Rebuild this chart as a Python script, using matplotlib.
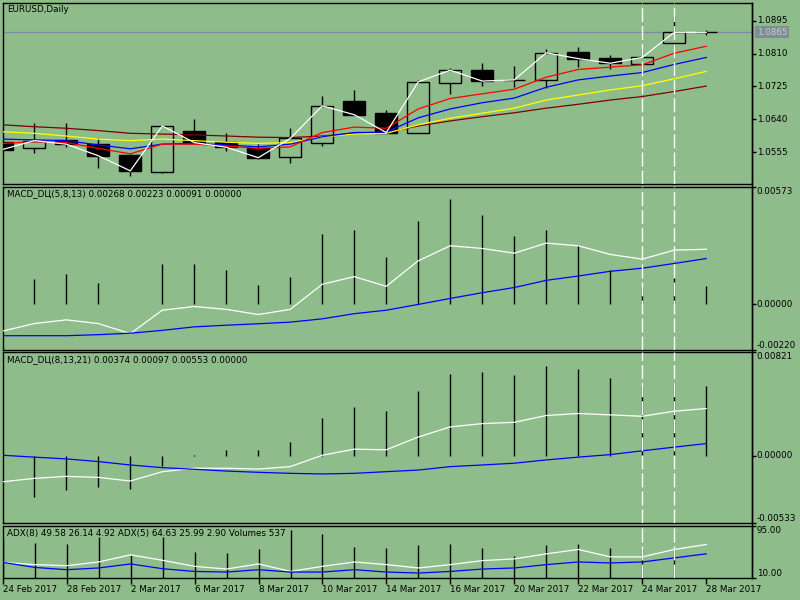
import matplotlib
matplotlib.use('Agg')
import matplotlib.pyplot as plt
from matplotlib.lines import Line2D

plt.rcParams['font.family'] = ['DejaVu Sans']

# ---- data (EURUSD daily, 24 Feb - 28 Mar 2017) ----
dates = ['24 Feb 2017', '27 Feb 2017', '28 Feb 2017', '1 Mar 2017', '2 Mar 2017',
         '3 Mar 2017', '6 Mar 2017', '7 Mar 2017', '8 Mar 2017', '9 Mar 2017',
         '10 Mar 2017', '13 Mar 2017', '14 Mar 2017', '15 Mar 2017', '16 Mar 2017',
         '17 Mar 2017', '20 Mar 2017', '21 Mar 2017', '22 Mar 2017', '23 Mar 2017',
         '24 Mar 2017', '27 Mar 2017', '28 Mar 2017']

opens = [1.0582, 1.0565, 1.0587, 1.0576, 1.0548, 1.0505, 1.0610, 1.0582, 1.0565, 1.0542,
         1.0578, 1.0688, 1.0656, 1.0604, 1.0733, 1.0767, 1.0741, 1.0741, 1.0814, 1.0799,
         1.0782, 1.0838, 1.0866]
highs = [1.0592, 1.0631, 1.0630, 1.0593, 1.0551, 1.0624, 1.0641, 1.0604, 1.0576, 1.0617,
         1.0700, 1.0716, 1.0664, 1.0742, 1.0772, 1.0785, 1.0778, 1.0822, 1.0828, 1.0806,
         1.0821, 1.0908, 1.0871]
lows = [1.0555, 1.0552, 1.0569, 1.0515, 1.0494, 1.0501, 1.0576, 1.0559, 1.0537, 1.0526,
        1.0572, 1.0651, 1.0604, 1.0604, 1.0706, 1.0727, 1.0723, 1.0720, 1.0776, 1.0769,
        1.0761, 1.0828, 1.0859]
closes = [1.0562, 1.0585, 1.0576, 1.0546, 1.0507, 1.0623, 1.0580, 1.0568, 1.0541, 1.0591,
          1.0675, 1.0652, 1.0606, 1.0737, 1.0767, 1.0739, 1.0742, 1.0812, 1.0797, 1.0785,
          1.0800, 1.0865, 1.0865]

ma_red = [1.0578, 1.0582, 1.0580, 1.0565, 1.0551, 1.0576, 1.0576, 1.0571, 1.0565, 1.0569,
          1.0606, 1.0620, 1.0617, 1.0667, 1.0694, 1.0706, 1.0718, 1.0749, 1.0769, 1.0775,
          1.0781, 1.0811, 1.0829]
ma_blue = [1.0589, 1.0587, 1.0585, 1.0574, 1.0564, 1.0576, 1.0578, 1.0574, 1.0569, 1.0576,
           1.0595, 1.0606, 1.0607, 1.0644, 1.0667, 1.0683, 1.0695, 1.0723, 1.0742, 1.0752,
           1.0761, 1.0782, 1.0800]
ma_yellow = [1.0608, 1.0604, 1.0597, 1.0589, 1.0585, 1.0589, 1.0585, 1.0581, 1.0578, 1.0580,
             1.0595, 1.0602, 1.0604, 1.0626, 1.0643, 1.0656, 1.0669, 1.0690, 1.0703, 1.0716,
             1.0727, 1.0745, 1.0764]
ma_maroon = [1.0626, 1.0621, 1.0617, 1.0611, 1.0604, 1.0602, 1.0600, 1.0597, 1.0594, 1.0593,
             1.0597, 1.0604, 1.0606, 1.0623, 1.0636, 1.0647, 1.0657, 1.0669, 1.0679, 1.0690,
             1.0699, 1.0712, 1.0726]
bid = 1.0865

macd1_hist = [0.00100, 0.00122, 0.00150, 0.00106, 0.00000, 0.00196, 0.00196, 0.00166, 0.00093,
              0.00132, 0.00342, 0.00362, 0.00230, 0.00406, 0.00510, 0.00435, 0.00333, 0.00362,
              0.00289, 0.00168, 0.00085, 0.00127, 0.00091]
macd1_white = [-0.00130, -0.00093, -0.00075, -0.00093, -0.00142, -0.00028, -0.00010, -0.00024,
               -0.00049, -0.00024, 0.00098, 0.00135, 0.00088, 0.00212, 0.00285, 0.00272,
               0.00249, 0.00298, 0.00285, 0.00243, 0.00220, 0.00264, 0.00268]
macd1_blue = [-0.00152, -0.00152, -0.00152, -0.00147, -0.00140, -0.00126, -0.00109, -0.00101,
              -0.00094, -0.00086, -0.00070, -0.00045, -0.00028, 0.00000, 0.00029, 0.00057,
              0.00082, 0.00117, 0.00138, 0.00161, 0.00176, 0.00199, 0.00223]

macd2_hist = [-0.00300, -0.00329, -0.00266, -0.00244, -0.00258, -0.00080, 0.00003, 0.00048,
              0.00048, 0.00112, 0.00303, 0.00383, 0.00351, 0.00510, 0.00648, 0.00661, 0.00638,
              0.00709, 0.00685, 0.00614, 0.00550, 0.00574, 0.00553]
macd2_white = [-0.00205, -0.00178, -0.00162, -0.00170, -0.00199, -0.00125, -0.00098, -0.00098,
               -0.00104, -0.00085, 0.00005, 0.00053, 0.00048, 0.00149, 0.00229, 0.00255,
               0.00265, 0.00319, 0.00335, 0.00324, 0.00313, 0.00353, 0.00374]
macd2_blue = [0.00005, -0.00010, -0.00024, -0.00045, -0.00072, -0.00093, -0.00106, -0.00120,
              -0.00130, -0.00138, -0.00143, -0.00138, -0.00125, -0.00112, -0.00085, -0.00072,
              -0.00058, -0.00032, -0.00010, 0.00010, 0.00040, 0.00069, 0.00097]

adx5 = [35.8, 32.1, 30.4, 36.4, 47.9, 39.1, 29.3, 25.0, 33.2, 21.1, 29.3, 36.4, 32.1, 26.7,
        32.1, 38.6, 41.4, 49.5, 56.6, 44.6, 44.6, 56.6, 64.63]
adx8 = [35.8, 27.6, 23.9, 26.7, 33.2, 25.5, 21.1, 20.1, 23.9, 20.1, 20.1, 23.9, 20.1, 18.5,
        21.1, 25.0, 26.7, 32.1, 36.4, 34.8, 36.4, 43.0, 49.58]
volumes = [120000, 105000, 103000, 123000, 70000, 123000, 78000, 75000, 88000, 145000, 133000,
           93000, 90000, 100000, 103000, 90000, 67000, 100000, 103000, 90000, 87000, 87000, 537]

price_ticks = [1.0555, 1.0640, 1.0725, 1.0810, 1.0895]
macd1_ticks = [-0.00220, 0.0, 0.00573]
macd2_ticks = [-0.00533, 0.0, 0.00821]
adx_ticks = [10.0, 95.0]
marked_bars = [20, 21]

title1 = 'EURUSD,Daily'
title2 = 'MACD_DЦ(5,8,13) 0.00268 0.00223 0.00091 0.00000'
title3 = 'MACD_DЦ(8,13,21) 0.00374 0.00097 0.00553 0.00000'
title4 = 'ADX(8) 49.58 26.14 4.92 ADX(5) 64.63 25.99 2.90 Volumes 537'

# ---- figure ----
BG = '#8fbc8b'
FS = 6.3
W, H = 800, 600
x = list(range(len(dates)))

fig = plt.figure(figsize=(8, 6), dpi=100, facecolor=BG)


def box(top, bottom):
    return [2.7 / W, 1 - bottom / H, (752.3 - 2.7) / W, (bottom - top) / H]


ax1 = fig.add_axes(box(2.5, 184))
ax2 = fig.add_axes(box(186.5, 349.7))
ax3 = fig.add_axes(box(352, 523.3))
ax4 = fig.add_axes(box(525.7, 578.3))
axv = ax4.twinx()

for ax in (ax1, ax2, ax3, ax4):
    ax.set_facecolor(BG)
    ax.set_xlim(0.0125, 23.44)
    for s in ax.spines.values():
        s.set_color('black')
        s.set_linewidth(1.0)
    ax.yaxis.tick_right()
    ax.tick_params(axis='y', length=3, width=1, direction='out', labelright=False)
    ax.tick_params(axis='x', length=0, labelbottom=False)

axv.set_yticks([])
axv.set_ylim(0, 157800)
for s in axv.spines.values():
    s.set_visible(False)
ax4.set_zorder(axv.get_zorder() + 1)
ax4.patch.set_visible(False)
axv.set_facecolor(BG)


def right_labels(ax, ticks, fmt, vas):
    ax.set_yticks(ticks)
    for t, va in zip(ticks, vas):
        ax.text(1.006, t, fmt.format(t), transform=ax.get_yaxis_transform(),
                ha='left', va=va, fontsize=FS, color='black', clip_on=False)


# price panel
ax1.set_ylim(1.0473, 1.0942)
ax1.axhline(bid, color='#7f8aa5', lw=0.9, zorder=1)
ax1.vlines(x, lows, highs, color='black', lw=1.0, zorder=2)
for i in x:
    o, c = opens[i], closes[i]
    face = 'black' if c < o else BG
    ax1.bar(i, abs(c - o), bottom=min(o, c), width=0.69, facecolor=face,
            edgecolor='black', linewidth=1.0, zorder=3)
ax1.plot(x, ma_maroon, color='#800000', lw=0.9, zorder=4)
ax1.plot(x, ma_yellow, color='#ffff00', lw=0.9, zorder=4)
ax1.plot(x, ma_blue, color='#0000ff', lw=0.9, zorder=4)
ax1.plot(x, ma_red, color='#ff0000', lw=0.9, zorder=4)
ax1.plot(x, closes, color='white', lw=0.9, zorder=5)
right_labels(ax1, price_ticks, '{:.4f}', ['center'] * len(price_ticks))
ax1.text(1.006, bid, '{:.4f}'.format(bid), transform=ax1.get_yaxis_transform(),
         ha='left', va='center', fontsize=FS, color='#c8ccc8', clip_on=False,
         bbox=dict(boxstyle='square,pad=0.15', facecolor='#808c96', edgecolor='none'))

# MACD(5,8,13)
ax2.set_ylim(-0.00220, 0.00573)
ax2.vlines(x, 0, macd1_hist, color='black', lw=1.0, zorder=2)
ax2.plot(x, macd1_white, color='white', lw=0.9, zorder=3)
ax2.plot(x, macd1_blue, color='#0000ff', lw=0.9, zorder=3)
right_labels(ax2, macd1_ticks, '{:.5f}', ['bottom', 'center', 'top'])

# MACD(8,13,21)
ax3.set_ylim(-0.00533, 0.00821)
ax3.vlines(x, 0, macd2_hist, color='black', lw=1.0, zorder=2)
ax3.plot(x, macd2_white, color='white', lw=0.9, zorder=3)
ax3.plot(x, macd2_blue, color='#0000ff', lw=0.9, zorder=3)
right_labels(ax3, macd2_ticks, '{:.5f}', ['bottom', 'center', 'top'])

# ADX + volumes
ax4.set_ylim(10, 95)
axv.vlines(x, 0, volumes, color='black', lw=1.0)
ax4.plot(x, adx5, color='white', lw=0.9, zorder=3)
ax4.plot(x, adx8, color='#0000ff', lw=0.9, zorder=3)
right_labels(ax4, adx_ticks, '{:.2f}', ['bottom', 'top'])

# date axis
ax4.set_xticks(x[::2], dates[::2])
ax4.tick_params(axis='x', length=4, width=1, direction='out', labelbottom=True,
                labelsize=FS, pad=1)
for lbl in ax4.get_xticklabels():
    lbl.set_horizontalalignment('left')

# marked bars
for ax in (ax1, ax2, ax3, ax4):
    for b in marked_bars:
        ax.axvline(b, color='white', lw=1.0, dashes=(10, 3), zorder=6)

# panel captions
for ax, t in ((ax1, title1), (ax2, title2), (ax3, title3), (ax4, title4)):
    ax.text(4 / 750, 1 - 3 / (ax.get_position().height * H), t, transform=ax.transAxes,
            ha='left', va='top', fontsize=FS, color='black', zorder=7)

# continuous right-hand scale line
fig.add_artist(Line2D([752.3 / W, 752.3 / W], [1 - 2.5 / H, 1 - 578.3 / H],
                      color='black', lw=1.0, transform=fig.transFigure))

fig.savefig('out.png', dpi=100, facecolor=BG)
